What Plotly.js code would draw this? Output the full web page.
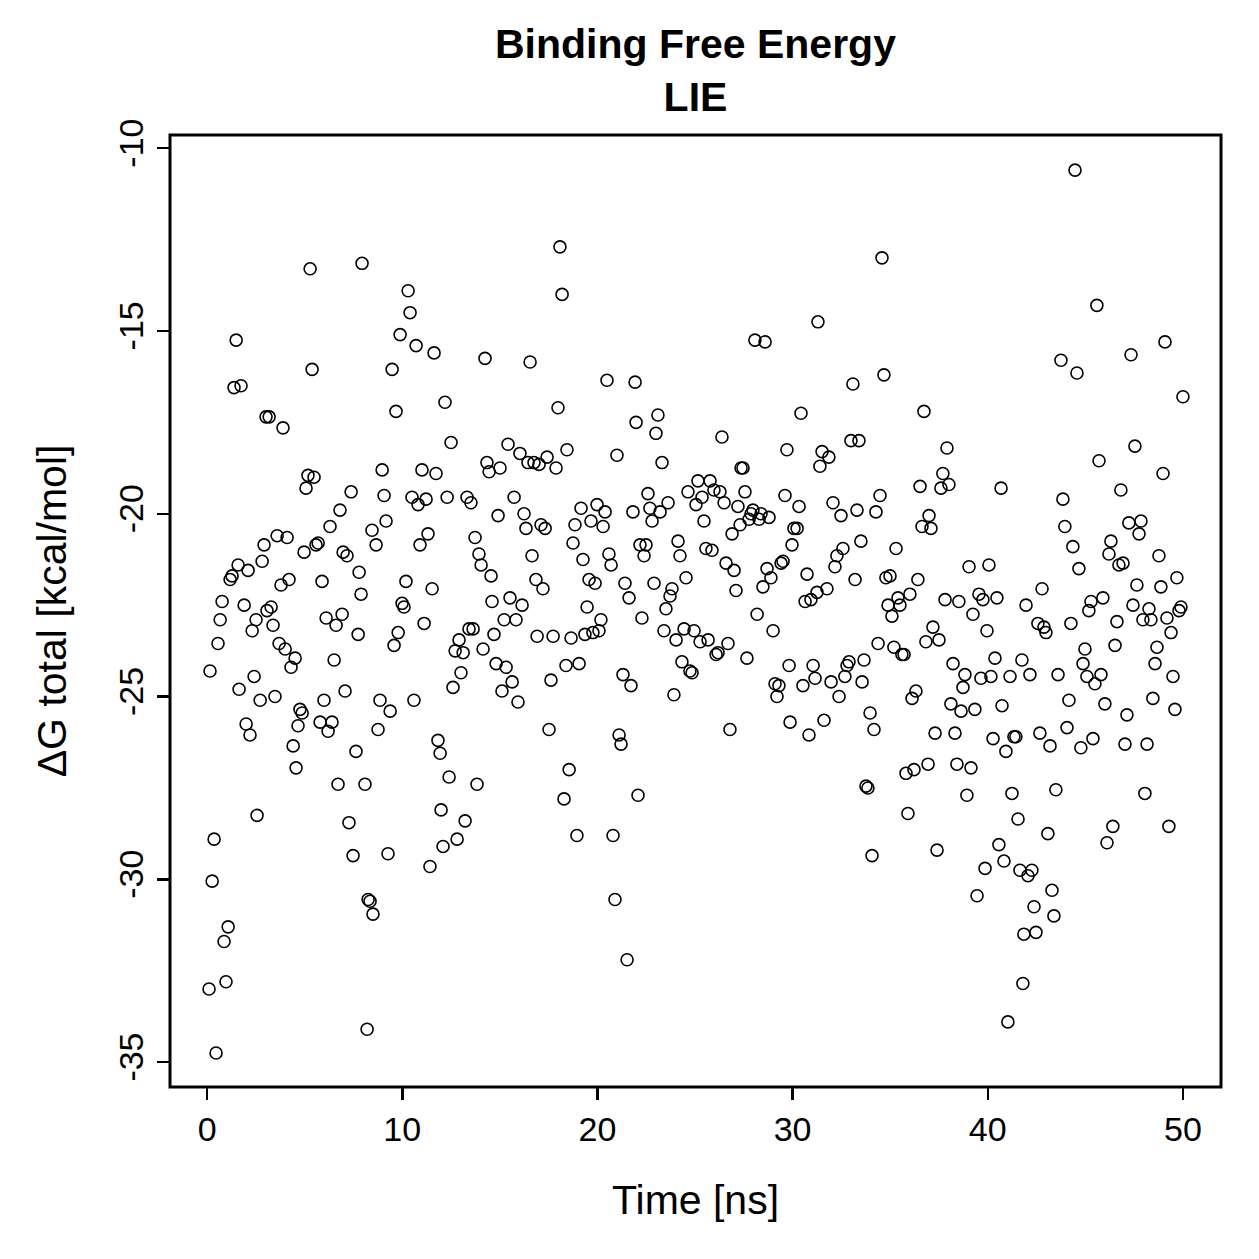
<!DOCTYPE html>
<html>
<head>
<meta charset="utf-8">
<script src="https://cdn.plot.ly/plotly-3.0.1.min.js"></script>
<style>
  html, body { margin: 0; padding: 0; background: #ffffff; }
  #plot { width: 1259px; height: 1259px; }
</style>
</head>
<body>
<div id="plot"></div>
<script>
// LIE binding free energy along the trajectory (time in ns, ΔG in kcal/mol)
const timeNs = [
  0.10,0.15,0.26,0.36,0.46,0.56,0.67,0.77,0.87,0.97,
  1.08,1.18,1.28,1.38,1.49,1.59,1.64,1.74,1.90,2.00,
  2.10,2.20,2.31,2.41,2.51,2.56,2.72,2.82,2.92,3.02,
  3.07,3.18,3.28,3.38,3.48,3.59,3.69,3.79,3.89,4.00,
  4.10,4.20,
  4.30,4.41,4.51,4.56,4.66,4.76,4.87,4.97,5.07,5.17,
  5.28,5.38,5.48,5.58,5.69,5.79,5.89,5.99,6.10,6.20,
  6.30,6.40,6.51,6.61,6.71,6.81,6.92,6.97,7.07,7.17,
  7.27,7.38,7.48,7.63,7.74,7.79,7.89,7.94,8.09,8.20,
  8.25,8.35,8.45,8.50,8.66,8.76,8.86,8.97,9.07,9.17,
  9.27,9.38,9.48,9.58,9.68,9.79,9.89,
  9.99,10.09,10.19,10.30,10.40,10.50,10.60,10.71,10.81,10.91,
  11.01,11.12,11.22,11.32,11.42,11.53,11.63,11.73,11.83,11.94,
  11.99,12.09,12.19,12.30,12.40,12.50,12.60,12.71,12.81,12.91,
  13.01,13.12,13.22,13.32,13.42,13.52,13.63,13.73,13.83,13.93,
  14.04,14.14,14.24,14.34,14.45,14.55,14.60,14.70,14.81,14.91,
  15.01,
  15.11,15.22,15.32,15.42,15.52,15.63,15.73,15.83,15.93,16.03,
  16.14,16.24,16.34,16.44,16.55,16.65,16.75,16.85,16.91,17.01,
  17.11,17.21,17.32,17.42,17.52,17.62,17.73,17.88,17.98,18.08,
  18.19,18.29,18.39,18.44,18.55,18.65,18.75,18.85,18.95,19.06,
  19.16,19.26,19.36,19.47,19.57,19.67,19.77,19.88,19.98,20.08,
  20.18,
  20.29,20.39,20.49,20.59,20.70,20.80,20.90,21.00,21.11,21.21,
  21.31,21.41,21.52,21.62,21.72,21.82,21.93,21.98,22.08,22.18,
  22.28,22.39,22.49,22.59,22.69,22.80,22.90,23.00,23.10,23.21,
  23.31,23.41,23.51,23.62,23.72,23.82,23.92,24.03,24.13,24.23,
  24.33,24.44,24.54,24.64,24.74,24.85,24.95,25.05,25.15,25.26,
  25.36,25.46,25.56,25.67,25.77,25.87,25.97,26.08,26.18,26.28,
  26.38,26.49,26.59,26.69,26.79,26.90,27.00,27.10,27.20,27.31,
  27.36,27.46,27.56,27.66,27.77,27.87,27.97,28.07,28.18,28.28,
  28.38,28.48,28.59,28.69,28.79,28.89,29.00,29.10,29.20,29.30,
  29.41,29.51,29.61,29.71,29.82,29.87,29.97,30.07,30.23,30.33,
  30.43,30.53,30.64,30.74,30.84,30.94,31.05,31.15,31.25,31.30,
  31.40,31.51,31.61,31.76,31.86,31.97,32.07,32.17,32.27,32.38,
  32.48,32.58,32.68,32.79,32.89,32.99,33.09,33.20,33.30,33.40,
  33.50,33.56,33.66,33.76,33.86,33.97,34.07,34.17,34.27,34.38,
  34.48,34.58,34.68,34.78,34.89,34.99,35.09,35.19,35.30,35.40,
  35.50,
  35.60,35.71,35.81,35.91,36.01,36.12,36.22,36.32,36.42,36.53,
  36.63,36.73,36.83,36.94,36.99,37.09,37.19,37.30,37.40,37.50,
  37.60,37.70,37.81,37.91,38.01,38.11,38.22,38.32,38.42,38.52,
  38.63,38.73,38.83,38.93,39.04,39.14,39.24,39.34,39.45,39.55,
  39.65,39.75,39.86,39.96,40.06,40.16,40.27,40.37,40.47,40.57,
  40.68,40.73,40.83,40.93,41.03,41.14,41.24,41.34,41.44,41.55,
  41.65,41.75,41.80,41.85,41.96,42.06,42.16,42.26,42.37,42.47,
  42.57,42.67,42.78,42.88,42.98,43.08,43.19,43.29,43.39,43.49,
  43.60,
  43.75,43.85,43.95,44.06,44.16,44.26,44.36,44.47,44.57,44.67,
  44.77,44.88,44.98,45.08,45.18,45.29,45.39,45.49,45.59,45.70,
  45.80,45.90,46.00,46.11,46.21,46.31,46.41,46.52,46.62,46.72,
  46.82,46.93,47.03,47.13,47.23,47.34,47.44,47.54,47.64,47.75,
  47.85,47.95,48.05,48.16,48.26,48.36,48.46,48.57,48.67,48.77,
  48.87,48.98,49.08,49.18,49.28,49.39,49.49,49.59,49.69,49.80,
  49.90,50.00
];

const deltaGTotal = [
  -33.0,-24.3,-30.05,-28.9,-34.75,-23.55,-22.9,-22.4,-31.7,-32.8,
  -31.3,-21.8,-21.7,-16.55,-15.25,-21.4,-24.8,-16.5,-22.5,-25.75,
  -21.55,-26.05,-23.2,-24.45,-22.9,-28.25,-25.1,-21.3,-20.85,-17.35,
  -22.65,-17.35,-22.55,-23.05,-25.0,-20.6,-23.55,-21.95,-17.65,-23.7,
  -20.65,-21.8,
  -24.2,-26.35,-23.95,-26.95,-25.8,-25.35,-25.45,-21.05,-19.3,-18.95,
  -13.3,-16.05,-19.0,-20.85,-20.8,-25.7,-21.85,-25.1,-22.85,-25.95,
  -20.35,-25.7,-24.0,-23.05,-27.4,-19.9,-22.75,-21.05,-24.85,-21.15,
  -28.45,-19.4,-29.35,-26.5,-23.3,-21.6,-22.2,-13.15,-27.4,-34.1,
  -30.55,-30.6,-20.45,-30.95,-20.85,-25.9,-25.1,-18.8,-19.5,-20.2,
  -29.3,-25.4,-16.05,-23.6,-17.2,-23.25,-15.1,
  -22.45,-22.55,-21.85,-13.9,-14.5,-19.55,-25.1,-15.4,-19.75,-20.85,
  -18.8,-23.0,-19.6,-20.55,-29.65,-22.05,-15.6,-18.9,-26.2,-26.55,
  -28.1,-29.1,-16.95,-19.55,-27.2,-18.05,-24.75,-23.75,-28.9,-23.45,
  -24.35,-23.8,-28.4,-19.55,-23.15,-19.7,-23.15,-20.65,-27.4,-21.1,
  -21.4,-23.7,-15.75,-18.6,-18.85,-21.7,-22.4,-23.3,-24.1,-20.05,
  -18.75,
  -24.85,-22.9,-24.2,-18.1,-22.3,-24.6,-19.55,-22.9,-25.15,-18.35,
  -22.5,-20.0,-20.4,-18.6,-15.85,-21.15,-18.6,-21.8,-23.35,-18.65,
  -20.3,-22.05,-20.4,-18.45,-25.9,-24.55,-23.35,-18.75,-17.1,-12.7,
  -14.0,-27.8,-24.15,-18.25,-27.0,-23.4,-20.8,-20.3,-28.8,-24.1,
  -19.85,-21.25,-23.3,-22.55,-21.8,-20.2,-23.25,-21.9,-19.75,-23.2,
  -22.9,
  -20.35,-19.95,-16.35,-21.1,-21.4,-28.8,-30.55,-18.4,-26.05,-26.3,
  -24.4,-21.9,-32.2,-22.3,-24.7,-19.95,-16.4,-17.5,-27.7,-20.85,
  -22.85,-21.15,-20.85,-19.45,-19.85,-20.2,-21.9,-17.8,-17.3,-19.95,
  -18.6,-23.2,-22.6,-19.7,-22.25,-22.05,-24.95,-23.45,-20.75,-21.15,
  -24.05,-23.15,-21.75,-19.4,-24.3,-24.35,-23.2,-19.75,-19.1,-23.5,
  -19.55,-20.2,-20.95,-23.45,-19.1,-21.0,-19.35,-23.85,-23.8,-19.4,
  -17.9,-19.7,-21.35,-23.55,-25.9,-20.55,-21.55,-22.1,-19.8,-20.3,
  -18.75,-18.75,-19.4,-23.95,-20.15,-20.0,-19.9,-15.25,-22.75,-20.15,
  -20.0,-22.0,-15.3,-21.5,-20.1,-21.75,-23.2,-24.65,-25.0,-24.7,
  -21.35,-21.3,-19.5,-18.25,-24.15,-25.7,-20.85,-20.4,-20.4,-19.8,
  -17.25,-24.7,-22.4,-21.65,-26.05,-22.35,-24.15,-24.5,-22.15,-14.75,
  -18.7,-18.3,-25.65,-22.05,-18.45,-24.6,-19.7,-21.45,-21.15,-25.0,
  -20.05,-20.95,-24.45,-24.15,-24.05,-18.0,-16.45,-21.8,-19.9,-18.0,
  -20.75,-24.6,-24.0,-27.45,-27.5,-25.45,-29.35,-25.9,-19.95,-23.55,
  -19.5,-13.0,-16.2,-21.75,-22.5,-21.7,-22.8,-23.65,-20.95,-22.3,
  -22.5,
  -23.85,-23.85,-27.1,-28.2,-22.2,-25.05,-27.0,-24.85,-21.8,-19.25,
  -20.35,-17.2,-23.5,-26.85,-20.05,-20.4,-23.1,-26.0,-29.2,-23.45,
  -19.3,-18.9,-22.35,-18.2,-19.2,-25.2,-24.1,-26.0,-26.85,-22.4,
  -25.4,-24.75,-24.4,-27.7,-21.45,-26.95,-22.75,-25.35,-30.45,-22.2,
  -24.5,-22.35,-29.7,-23.2,-21.4,-24.45,-26.15,-23.95,-22.3,-29.05,
  -19.3,-25.25,-29.5,-26.5,-33.9,-24.45,-27.65,-26.1,-26.1,-28.35,
  -29.75,-24.0,-32.85,-31.5,-22.5,-29.9,-24.4,-29.75,-30.75,-31.45,
  -23.0,-26.0,-22.05,-23.1,-23.25,-28.75,-26.35,-30.3,-31.0,-27.55,
  -24.4,
  -15.8,-19.6,-20.35,-25.85,-25.1,-23.0,-20.9,-10.6,-16.15,-21.5,
  -26.4,-24.1,-23.7,-24.45,-22.65,-22.4,-26.15,-24.65,-14.3,-18.55,
  -24.4,-22.3,-25.2,-29.0,-21.1,-20.75,-28.55,-23.6,-22.95,-21.4,
  -19.35,-21.35,-26.3,-25.5,-20.25,-15.65,-22.5,-18.15,-21.95,-20.55,
  -20.2,-22.9,-27.65,-26.3,-22.6,-22.9,-25.05,-24.1,-23.65,-21.15,
  -22.0,-18.9,-15.3,-22.85,-28.55,-23.25,-24.45,-25.35,-21.75,-22.65,
  -22.55,-16.8
];

const xTicks = [0, 10, 20, 30, 40, 50];
const yTicks = [-35, -30, -25, -20, -15, -10];

const FONT = 'Liberation Sans, Arial, Helvetica, sans-serif';

const trace = {
  type: 'scatter',
  mode: 'markers',
  x: timeNs,
  y: deltaGTotal,
  marker: {
    symbol: 'circle-open',
    size: 12,
    color: '#000000',
    line: { color: '#000000', width: 1.6 }
  },
  hoverinfo: 'x+y'
};

const layout = {
  width: 1259,
  height: 1259,
  margin: { l: 170, r: 38, t: 135, b: 172, pad: 0 },
  paper_bgcolor: '#ffffff',
  plot_bgcolor: '#ffffff',
  showlegend: false,
  font: { family: FONT, color: '#000000', size: 34 },
  title: {
    text: '<b>Binding Free Energy</b><br><b>LIE</b>',
    font: { family: FONT, size: 41, color: '#000000' },
    xref: 'paper', x: 0.5, xanchor: 'center',
    yref: 'container', y: 0.954, yanchor: 'top'
  },
  xaxis: {
    range: [-1.9, 51.95],
    tickmode: 'array',
    tickvals: xTicks,
    ticktext: xTicks.map(String),
    ticks: 'outside',
    ticklen: 12,
    tickwidth: 2.5,
    tickcolor: '#000000',
    tickfont: { family: FONT, size: 34, color: '#000000' },
    showgrid: false,
    zeroline: false,
    showline: false,
    fixedrange: true
  },
  yaxis: {
    range: [-35.68, -9.64],
    tickmode: 'array',
    tickvals: yTicks,
    ticktext: yTicks.map(String),
    tickangle: -90,
    ticks: 'outside',
    ticklen: 12,
    tickwidth: 2.5,
    tickcolor: '#000000',
    tickfont: { family: FONT, size: 34, color: '#000000' },
    showgrid: false,
    zeroline: false,
    showline: false,
    fixedrange: true
  },
  shapes: [{
    type: 'rect', xref: 'paper', yref: 'paper',
    x0: 0, x1: 1, y0: 0, y1: 1,
    line: { color: '#000000', width: 3 },
    fillcolor: 'rgba(0,0,0,0)',
    layer: 'above'
  }],
  annotations: [
    {
      text: 'Time [ns]',
      xref: 'paper', yref: 'paper',
      x: 0.5, y: -0.119,
      xanchor: 'center', yanchor: 'middle',
      showarrow: false,
      font: { family: FONT, size: 41, color: '#000000' }
    },
    {
      text: 'ΔG total [kcal/mol]',
      xref: 'paper', yref: 'paper',
      x: -0.112, y: 0.5,
      xanchor: 'center', yanchor: 'middle',
      textangle: -90,
      showarrow: false,
      font: { family: FONT, size: 41, color: '#000000' }
    }
  ]
};

Plotly.newPlot('plot', [trace], layout, { displayModeBar: false, staticPlot: true });
</script>
</body>
</html>
